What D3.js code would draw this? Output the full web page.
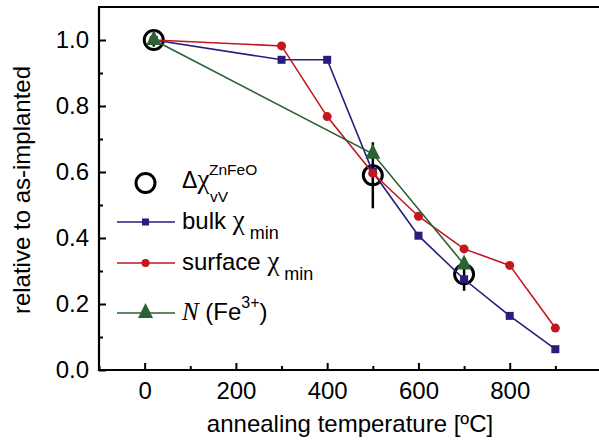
<!DOCTYPE html>
<html>
<head>
<meta charset="utf-8">
<script src="https://cdn.jsdelivr.net/npm/d3@7"></script>
<style>
  body { margin: 0; background: #fff; }
  svg { display: block; }
  text { font-family: "Liberation Sans", Arial, sans-serif; fill: #000; }
  .sym { font-family: "Liberation Serif", "Times New Roman", serif; }
</style>
</head>
<body>
<svg width="599" height="443"></svg>
<script>
  // annealing temperatures (ºC) and values relative to as-implanted
  const bulkT = [20, 300, 400, 500, 600, 700, 800, 900];
  const bulkV = [1.0, 0.94, 0.94, 0.60, 0.407, 0.275, 0.164, 0.063];
  const surfT = [20, 300, 400, 500, 600, 700, 800, 900];
  const surfV = [1.0, 0.982, 0.768, 0.596, 0.466, 0.367, 0.317, 0.127];
  const feT = [20, 500, 700];
  const feV = [1.0, 0.655, 0.32];
  const chiT = [20, 500, 700];
  const chiV = [1.0, 0.59, 0.29];
  const chiErr = [0.02, 0.10, 0.05];
  const xTicks = [0, 200, 400, 600, 800];
  const yTicks = [0.0, 0.2, 0.4, 0.6, 0.8, 1.0];

  const blue = "#2a1b7e", red = "#c3161f", green = "#2c6133";

  const svg = d3.select("svg");
  const pLeft = 99, pRight = 601, pTop = 7, pBottom = 370;

  const x = d3.scaleLinear().domain([-100, 1000]).range([pLeft, pRight]);
  const y = d3.scaleLinear().domain([0, 1.1]).range([pBottom, pTop]);

  // minor ticks
  const xMinor = d3.range(-100, 1001, 100).filter(v => xTicks.indexOf(v) < 0);
  const yMinor = d3.range(0.1, 1.1, 0.2);

  svg.append("g").attr("transform", "translate(0," + pBottom + ")")
    .call(d3.axisBottom(x).tickValues(xMinor).tickSize(-4).tickFormat(""))
    .call(g => g.select(".domain").remove())
    .selectAll("line").attr("stroke-width", 2);
  svg.append("g").attr("transform", "translate(" + pLeft + ",0)")
    .call(d3.axisLeft(y).tickValues(yMinor).tickSize(-4).tickFormat(""))
    .call(g => g.select(".domain").remove())
    .selectAll("line").attr("stroke-width", 2);

  // major ticks with labels
  const xAxis = svg.append("g").attr("transform", "translate(0," + pBottom + ")")
    .call(d3.axisBottom(x).tickValues(xTicks).tickSize(-7).tickPadding(12).tickFormat(d3.format("d")));
  xAxis.select(".domain").remove();
  xAxis.selectAll("line").attr("stroke-width", 2);
  xAxis.selectAll("text").attr("font-size", 24).attr("font-family", "Liberation Sans");

  const yAxis = svg.append("g").attr("transform", "translate(" + pLeft + ",0)")
    .call(d3.axisLeft(y).tickValues(yTicks).tickSize(-7).tickPadding(10).tickFormat(d3.format(".1f")));
  yAxis.select(".domain").remove();
  yAxis.selectAll("line").attr("stroke-width", 2);
  yAxis.selectAll("text").attr("font-size", 24).attr("font-family", "Liberation Sans");

  // frame lines (bottom, left, top)
  svg.append("line").attr("x1", pLeft).attr("x2", 599).attr("y1", pBottom).attr("y2", pBottom)
    .attr("stroke", "#000").attr("stroke-width", 2.2);
  svg.append("line").attr("x1", pLeft).attr("x2", pLeft).attr("y1", pTop).attr("y2", pBottom + 1)
    .attr("stroke", "#000").attr("stroke-width", 2.2);
  svg.append("line").attr("x1", pLeft - 1).attr("x2", 599).attr("y1", pTop).attr("y2", pTop)
    .attr("stroke", "#000").attr("stroke-width", 2.2);

  // axis titles
  svg.append("text").attr("x", 350).attr("y", 432).attr("text-anchor", "middle")
    .attr("font-size", 24).text("annealing temperature [ºC]");
  svg.append("text").attr("transform", "translate(30,190) rotate(-90)").attr("text-anchor", "middle")
    .attr("font-size", 24).text("relative to as-implanted");

  const line = d3.line().x(d => x(d[0])).y(d => y(d[1]));
  const zip = (a, b) => a.map((v, i) => [v, b[i]]);

  // open circles with error bars
  const chi = zip(chiT, chiV).map((d, i) => d.concat(chiErr[i]));
  svg.append("g").selectAll("line").data(chi).join("line")
    .attr("x1", d => x(d[0])).attr("x2", d => x(d[0]))
    .attr("y1", d => y(d[1] + d[2])).attr("y2", d => y(d[1] - d[2]))
    .attr("stroke", "#000").attr("stroke-width", 2.5);
  svg.append("g").selectAll("circle").data(chi).join("circle")
    .attr("cx", d => x(d[0])).attr("cy", d => y(d[1])).attr("r", 9.5)
    .attr("fill", "none").attr("stroke", "#000").attr("stroke-width", 3);

  function triPath(cx, cy, s) {
    const h = s * 1.0;
    return "M" + cx + "," + (cy - h * 2 / 3) + "L" + (cx + s / 2) + "," + (cy + h / 3) +
      "L" + (cx - s / 2) + "," + (cy + h / 3) + "Z";
  }

  // bulk
  const bulk = zip(bulkT, bulkV);
  svg.append("path").datum(bulk).attr("d", line).attr("fill", "none")
    .attr("stroke", blue).attr("stroke-width", 1.6);
  svg.append("g").selectAll("rect").data(bulk).join("rect")
    .attr("x", d => x(d[0]) - 4).attr("y", d => y(d[1]) - 4).attr("width", 8).attr("height", 8)
    .attr("fill", blue);

  // surface
  const surf = zip(surfT, surfV);
  svg.append("path").datum(surf).attr("d", line).attr("fill", "none")
    .attr("stroke", red).attr("stroke-width", 1.6);
  svg.append("g").selectAll("circle").data(surf).join("circle")
    .attr("cx", d => x(d[0])).attr("cy", d => y(d[1])).attr("r", 4.5)
    .attr("fill", red);

  // N(Fe3+)
  const fe = zip(feT, feV);
  svg.append("path").datum(fe).attr("d", line).attr("fill", "none")
    .attr("stroke", green).attr("stroke-width", 1.6);
  svg.append("g").selectAll("path").data(fe).join("path")
    .attr("d", d => triPath(x(d[0]), y(d[1]), 15)).attr("fill", green);

  // legend
  const lx0 = 117, lx1 = 175, lm = 145.5, tx = 182;
  svg.append("circle").attr("cx", lm).attr("cy", 183).attr("r", 9.5)
    .attr("fill", "none").attr("stroke", "#000").attr("stroke-width", 3);
  svg.append("text").attr("x", tx).attr("y", 188).attr("font-size", 23)
    .call(t => {
      t.append("tspan").text("Δ");
      t.append("tspan").attr("class", "sym").attr("font-size", 27).text("χ");
    });
  svg.append("text").attr("x", 209).attr("y", 175).attr("font-size", 15.5).text("ZnFeO");
  svg.append("text").attr("x", 210).attr("y", 202).attr("font-size", 15.5).text("vV");

  const leg = [
    { y: 222, c: blue, m: "sq", name: "bulk " },
    { y: 263, c: red, m: "ci", name: "surface " },
    { y: 313, c: green, m: "tr" }
  ];
  leg.forEach(d => {
    svg.append("line").attr("x1", lx0).attr("x2", lx1).attr("y1", d.y).attr("y2", d.y)
      .attr("stroke", d.c).attr("stroke-width", 1.4);
    if (d.m === "sq") svg.append("rect").attr("x", lm - 3.5).attr("y", d.y - 3.5)
      .attr("width", 7).attr("height", 7).attr("fill", d.c);
    if (d.m === "ci") svg.append("circle").attr("cx", lm).attr("cy", d.y).attr("r", 4).attr("fill", d.c);
    if (d.m === "tr") svg.append("path").attr("d", triPath(lm, d.y, 15)).attr("fill", d.c);
  });

  [leg[0], leg[1]].forEach(d => {
    const t = svg.append("text").attr("x", tx).attr("y", d.y + 7).attr("font-size", 24);
    t.append("tspan").text(d.name);
    t.append("tspan").attr("class", "sym").attr("font-size", 27).text("χ");
    t.append("tspan").attr("font-size", 18).attr("dy", 10).text(" min");
  });

  const tn = svg.append("text").attr("x", tx).attr("y", 320).attr("font-size", 24);
  tn.append("tspan").attr("class", "sym").attr("font-style", "italic").attr("font-size", 25).text("N");
  tn.append("tspan").text(" (Fe");
  tn.append("tspan").attr("font-size", 16).attr("dy", -12).text("3+");
  tn.append("tspan").attr("dy", 12).text(")");
</script>
</body>
</html>
